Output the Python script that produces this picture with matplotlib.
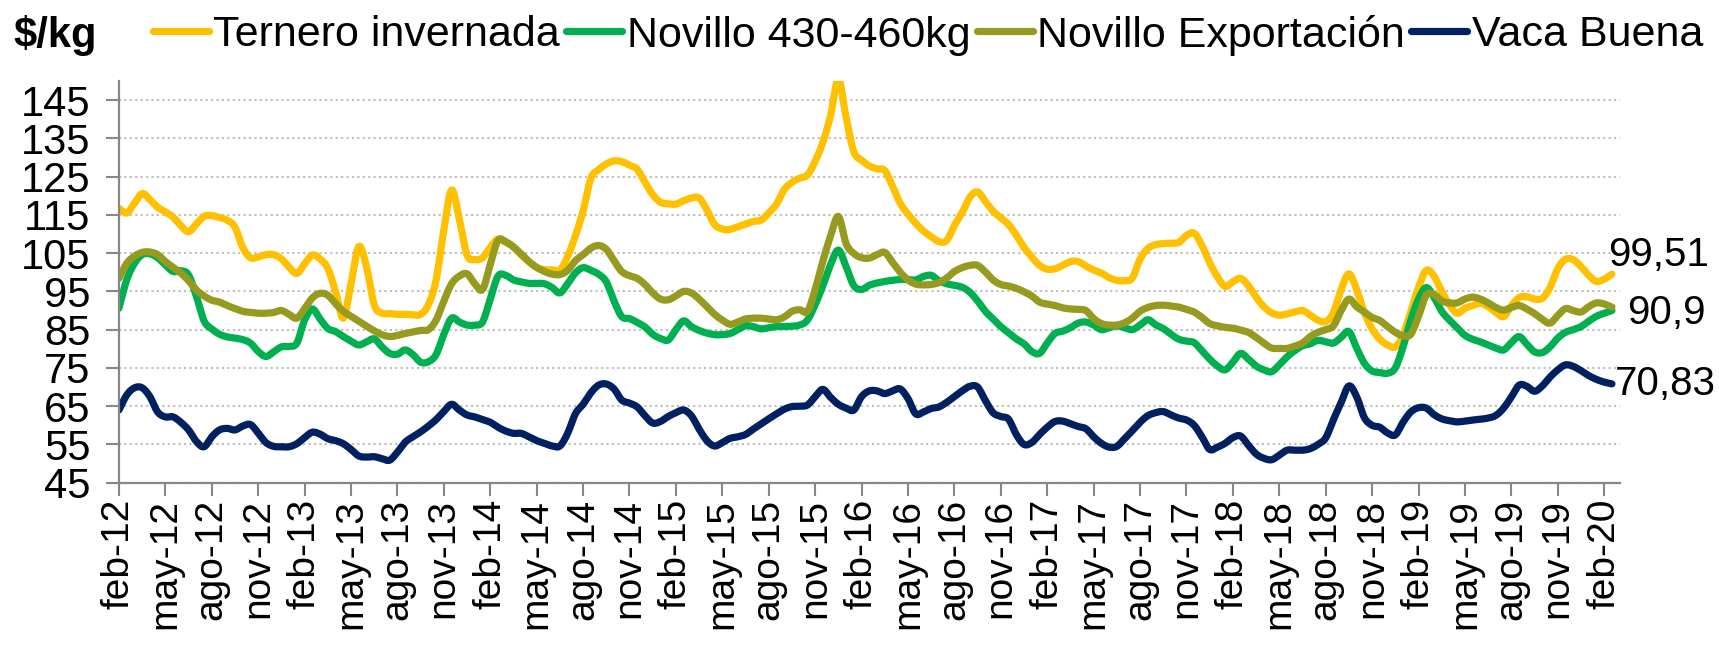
import numpy as np
import matplotlib.pyplot as plt

plt.rcParams['font.family'] = ['Liberation Sans', 'DejaVu Sans']

# precios quincenales desde feb-12 hasta feb-20 ($/kg)
ternero = [
    116.7, 115.5, 118.0, 120.6, 119.0, 117.0, 115.8, 114.4, 112.2, 110.6,
    112.6, 114.6, 114.8, 114.3, 113.6, 111.8, 106.5, 103.8, 104.0, 104.6,
    104.6, 103.5, 101.3, 99.7, 102.2, 104.5, 103.5, 101.0, 95.0, 88.0,
    97.0, 106.7, 101.5, 91.5, 89.3, 89.2, 89.0, 89.0, 88.9, 89.0,
    91.5, 98.0, 111.0, 121.5, 114.0, 104.5, 103.3, 103.8, 106.5, 108.7,
    107.8, 106.7, 104.5, 102.8, 101.2, 100.7, 100.6, 100.6, 104.1, 109.5,
    116.0, 124.5, 126.8, 128.3, 129.1, 128.9, 128.0, 126.9, 123.5, 120.3,
    118.3, 117.9, 117.8, 118.7, 119.4, 119.4, 116.3, 112.5, 111.3, 111.2,
    111.9, 112.6, 113.3, 113.6, 115.5, 117.8, 121.6, 123.5, 124.6, 125.4,
    129.0, 134.0, 141.0, 150.5, 140.5, 131.5, 129.3, 127.8, 127.0, 126.6,
    122.5, 118.0, 115.2, 112.8, 110.8, 109.3, 108.0, 108.3, 112.2, 115.6,
    119.6, 121.0, 118.5, 116.0, 114.2, 112.5, 109.7, 106.5, 104.0, 101.8,
    100.8, 100.9, 101.8, 102.8, 102.8, 101.6, 100.6, 99.8, 98.6, 97.9,
    97.8, 98.5, 103.4, 106.2, 107.2, 107.5, 107.6, 107.8, 109.6, 110.2,
    107.0, 102.5, 98.8, 96.3, 97.5, 98.4, 96.5, 93.5, 91.0, 89.4,
    88.8, 89.1, 89.6, 90.0, 88.8, 87.5, 87.1, 89.5, 95.5, 99.6,
    95.5, 89.5, 85.2, 82.5, 81.0, 80.5, 83.5, 89.8, 96.0, 100.5,
    99.0, 95.0, 91.5, 89.3, 90.6, 91.3, 91.9, 91.0, 89.5, 88.4,
    91.2, 93.4, 93.6, 93.0, 93.2, 96.0, 101.0, 103.4, 103.3, 101.5,
    99.2, 97.6, 98.2, 99.51,
]
novillo = [
    90.6, 98.0, 102.3, 104.6, 104.8, 103.8, 101.9, 100.2, 100.4, 99.3,
    93.8, 87.3, 85.2, 83.8, 83.1, 82.8, 82.4, 81.5, 79.3, 78.0,
    79.2, 80.5, 80.6, 81.5, 87.5, 90.4, 87.8, 85.3, 84.5, 83.2,
    82.0, 81.0, 81.8, 82.6, 80.5, 78.8, 78.6, 79.7, 78.5, 76.5,
    76.6, 78.5, 83.8, 88.0, 87.0, 86.2, 86.2, 87.0, 93.0, 99.0,
    99.2, 98.0, 97.5, 97.1, 97.1, 97.0, 96.0, 94.6, 97.0, 99.8,
    101.2, 100.5, 99.5, 97.5, 92.5, 88.4, 87.9, 86.9, 85.7, 83.8,
    82.7, 82.3, 85.0, 87.3, 85.8, 84.8, 84.1, 83.7, 83.7, 84.0,
    85.0, 86.0, 85.8, 85.2, 85.5, 85.8, 85.8, 85.9, 86.2, 87.5,
    91.5, 96.5, 102.0, 105.8, 101.5, 96.5, 95.5, 96.6, 97.2, 97.6,
    97.9, 98.1, 98.1, 98.0, 98.9, 99.2, 97.8, 97.0, 96.6, 96.1,
    94.8, 92.5, 89.8, 87.8, 85.8, 84.2, 82.6, 81.3, 79.3, 78.8,
    81.5, 84.0, 84.6, 85.5, 86.7, 87.0, 86.2, 85.0, 85.5, 86.0,
    85.5, 85.0, 86.2, 87.6, 86.3, 85.3, 83.8, 82.5, 82.0, 81.6,
    79.5, 77.3, 75.5, 74.5, 76.5, 78.8, 77.3, 75.5, 74.5, 74.0,
    75.8, 77.9, 79.5, 80.8, 81.3, 82.2, 81.8, 81.5, 83.0, 84.5,
    80.2, 76.2, 74.2, 73.8, 73.6, 75.0, 80.5, 87.5, 93.0, 96.0,
    93.5, 89.8, 87.5, 85.5, 83.5, 82.5, 81.8, 81.0, 80.2, 79.7,
    81.6, 83.2, 81.2, 79.2, 79.0, 80.5, 82.8, 84.3, 85.0, 85.8,
    87.2, 88.5, 89.3, 90.0,
]
exportacion = [
    98.4, 102.3, 104.2, 105.2, 105.3, 104.6, 102.8, 101.3, 99.8, 97.8,
    95.4, 93.8, 92.7, 92.2, 91.3, 90.5, 89.8, 89.5, 89.3, 89.3,
    89.5, 90.0, 89.0, 88.0, 90.5, 93.3, 94.5, 94.0, 91.8, 89.8,
    88.5, 87.2, 85.9, 84.7, 83.7, 83.2, 83.5, 84.0, 84.4, 84.8,
    85.0, 87.5, 92.5, 97.0, 99.0, 99.6, 97.0, 95.5, 102.0, 108.3,
    108.0, 106.6, 104.8, 102.8, 101.3, 100.2, 99.5, 99.4, 100.5, 103.0,
    104.6, 106.3, 107.0, 106.0, 103.0, 100.2, 99.1, 98.4, 96.8, 94.6,
    93.0, 92.8, 93.8, 95.0, 94.6, 93.0, 91.0, 89.0, 87.5, 86.4,
    87.0, 87.8, 88.0, 88.0, 87.8, 87.6, 88.3, 89.8, 90.2, 89.8,
    95.5, 103.0, 109.5, 114.6, 107.5, 104.9, 103.8, 103.7, 104.6, 105.2,
    102.6, 100.0, 98.0, 96.9, 96.7, 96.8, 97.3, 98.5, 100.2, 101.2,
    101.8, 101.8, 100.1, 98.0, 96.8, 96.4, 95.8, 94.9, 93.8, 92.2,
    91.7, 91.3, 90.7, 90.4, 90.3, 90.0, 87.9, 86.6, 86.2, 86.2,
    86.8, 88.0, 89.8, 90.8, 91.3, 91.4, 91.2, 90.9, 90.3, 89.6,
    88.2, 86.6, 86.0, 85.6, 85.4, 84.9, 84.3, 83.0, 81.5, 80.2,
    80.1, 80.1, 80.7, 81.5, 83.2, 84.3, 85.0, 86.0, 90.0, 93.0,
    91.0, 89.6, 88.2, 87.4, 85.8, 84.3, 83.4, 83.8, 88.5, 94.0,
    94.2, 92.5, 92.0, 92.0, 93.0, 93.5, 93.0, 92.0, 90.8, 90.1,
    90.8, 91.3, 90.4, 89.2, 87.7, 86.7, 88.7, 90.5, 90.0, 89.6,
    91.0, 92.0, 91.7, 90.9,
]
vaca = [
    64.0, 67.9, 69.8, 69.8, 67.5, 63.5, 62.2, 62.2, 60.8, 58.8,
    55.8, 54.4, 57.0, 58.8, 59.2, 58.8, 59.8, 60.2, 58.0, 55.5,
    54.5, 54.4, 54.4, 55.2, 56.8, 58.2, 57.7, 56.5, 56.0, 55.2,
    53.7, 52.0, 51.7, 51.8, 51.3, 50.9, 53.0, 55.6, 57.0, 58.3,
    59.8, 61.5, 63.6, 65.5, 64.0, 62.7, 62.2, 61.5, 60.8, 59.5,
    58.5, 57.9, 57.9, 57.0, 56.0, 55.3, 54.6, 54.6, 57.9, 63.0,
    65.5, 68.5, 70.5, 70.8, 69.5, 66.6, 65.8, 64.8, 62.5, 60.6,
    61.0, 62.3, 63.3, 64.0, 62.5, 59.0, 56.0, 54.6, 55.5, 56.6,
    57.0, 57.6, 59.0, 60.3, 61.7, 63.0, 64.2, 64.9, 65.0, 65.3,
    67.5, 69.4, 67.3, 65.5, 64.5, 64.0, 67.5, 69.0, 69.0, 68.3,
    69.0, 69.5, 67.0, 63.0, 63.5, 64.4, 64.8, 66.0, 67.5, 69.0,
    70.2, 70.0, 66.5, 63.3, 62.3, 61.6, 57.6, 55.0, 55.5, 57.6,
    59.5, 61.0, 61.1, 60.4, 59.7, 59.1, 57.0, 55.3, 54.3, 54.5,
    56.5, 58.6, 60.8, 62.5, 63.3, 63.6, 62.7, 61.9, 61.4, 60.0,
    57.0, 53.7, 54.3, 55.3, 56.8, 57.2, 54.8, 52.5, 51.4, 51.0,
    52.2, 53.5, 53.5, 53.5, 53.9, 55.0, 56.7, 61.5, 66.0, 70.3,
    67.5, 62.0, 60.0, 59.5, 58.0, 57.5, 60.8, 63.5, 64.6, 64.5,
    62.8, 61.7, 61.2, 60.9, 61.1, 61.4, 61.6, 61.9, 62.6, 64.5,
    67.4, 70.5, 70.2, 68.9, 70.3, 72.6, 74.5, 75.8, 75.4, 74.3,
    73.0, 72.0, 71.3, 70.83,
]

names = ['Ternero invernada', 'Novillo 430-460kg', 'Novillo Exportación', 'Vaca Buena']
colors = ['#FFC000', '#00B050', '#969A1E', '#002060']
meses = ['feb', 'may', 'ago', 'nov']
tick_labels = [f'{meses[k % 4]}-{12 + k // 4}' for k in range(33)]
y_ticks = list(range(45, 146, 10))


def smooth(x, y, n=8):
    '''Catmull-Rom, como la linea suavizada de Excel'''
    x = np.asarray(x, float)
    y = np.asarray(y, float)
    out = []
    for v in (x, y):
        p = np.concatenate([[2 * v[0] - v[1]], v, [2 * v[-1] - v[-2]]])
        p0, p1, p2, p3 = p[:-3], p[1:-2], p[2:-1], p[3:]
        t = np.linspace(0, 1, n, endpoint=False)[:, None]
        c = 0.5 * (2 * p1 + (p2 - p0) * t + (2 * p0 - 5 * p1 + 4 * p2 - p3) * t ** 2
                   + (3 * p1 - p0 - 3 * p2 + p3) * t ** 3)
        out.append(np.append(c.T.ravel(), v[-1]))
    return out


fig = plt.figure(figsize=(17.19, 6.47), dpi=100)
ax = fig.add_axes([0.0692, 0.2539, 0.8730, 0.6210])

months = np.arange(len(ternero)) / 2
handles = []
for vals, name, col in zip([ternero, novillo, exportacion, vaca], names, colors):
    sx, sy = smooth(months, vals)
    h, = ax.plot(sx, sy, color=col, lw=5.2, solid_capstyle='round', label=name)
    handles.append(h)

# etiquetas del ultimo dato
gray = '#878787'
for vals, dx, dy in [(ternero, -4, 19), (exportacion, 15, -6), (vaca, 3, 0)]:
    lab = f'{vals[-1]:g}'.replace('.', ',')
    ax.annotate(lab, xy=(months[-1], vals[-1]), xytext=(dx, dy),
                textcoords='offset pixels', va='center', ha='left',
                fontsize=29, annotation_clip=False)

ax.set_xlim(0, 97)
ax.set_ylim(45, 150)
ax.set_yticks(y_ticks)
ax.set_xticks(np.arange(0, 97, 3))
ax.set_xticklabels(tick_labels, rotation=90)
ax.tick_params(axis='both', direction='out', length=9.5, width=1.5, color=gray)
ax.tick_params(axis='x', labelsize=28, pad=2)
ax.tick_params(axis='y', labelsize=30, pad=11)
ax.grid(axis='y', color='#BDBDBD', lw=1.5, ls=(0, (1, 1.6)))
ax.set_axisbelow(True)
for s in ['top', 'right']:
    ax.spines[s].set_visible(False)
for s in ['left', 'bottom']:
    ax.spines[s].set_color(gray)
    ax.spines[s].set_linewidth(1.6)

fig.text(13 / 1719, 1 - 35 / 647, '$/kg', fontsize=30, fontweight='bold',
         va='center', ha='left')
fig.legend(handles=handles, loc='center left', bbox_to_anchor=(0.089, 1 - 35 / 647),
           ncol=4, frameon=False, fontsize=31, handlelength=1.3, handletextpad=0.1,
           columnspacing=0.15, borderpad=0, borderaxespad=0)

fig.savefig('out.png', dpi=100)
